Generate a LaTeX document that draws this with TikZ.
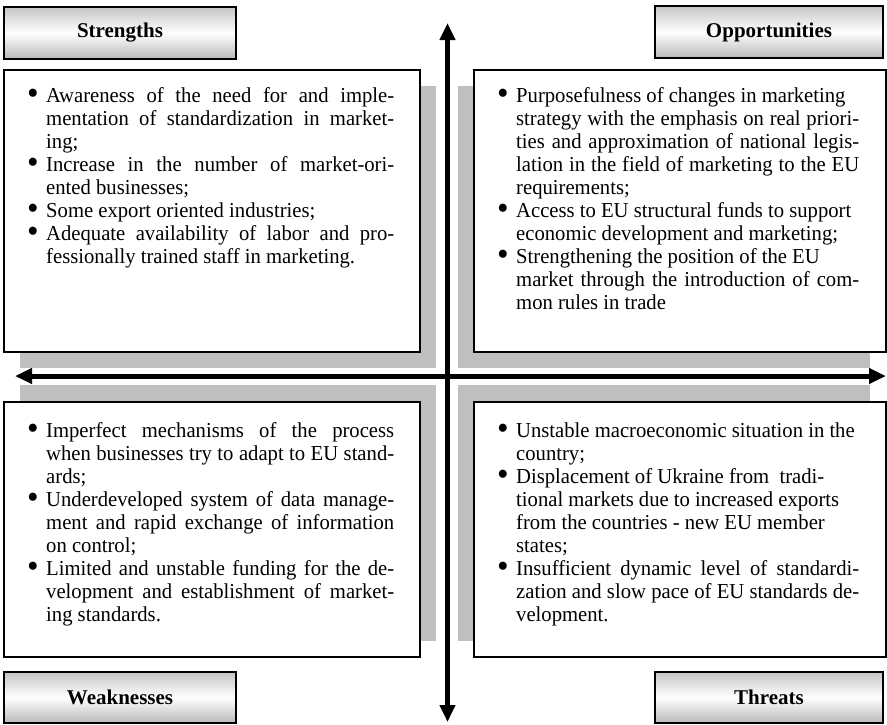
\documentclass[tikz,border=0pt]{standalone}
\usepackage{fontspec}
\usepackage{graphicx}
\setmainfont{Liberation Serif}
\newfontfamily\colserif{Liberation Serif}[FakeStretch=0.97]
\usetikzlibrary{arrows.meta}
\newcommand{\bigbullet}{\smash{\raisebox{-0.13em}{\scalebox{1.6}{\textbullet}}}}
\newcommand{\bitem}[1]{\par\noindent\hangindent=19pt\hangafter=1\hbox to 19pt{\bigbullet\hfil}#1\par}
\newcommand{\colfont}{\colserif\fontsize{21.3}{23}\selectfont\hyphenpenalty=10000\exhyphenpenalty=10000\tolerance=10000\parindent=0pt\parskip=0pt}
\newcommand{\coltxt}[2]{\parbox[t]{#1}{\colfont#2}}
\begin{document}
\begin{tikzpicture}[x=1pt,y=-1pt,
  shadowbox/.style={fill=gray!50, draw=none, inner sep=0pt},
  mainbox/.style={draw=black, line width=1.3pt, fill=white, inner sep=0pt},
  header/.style={draw=black, line width=1.3pt, top color=gray!45, bottom color=gray!55, middle color=white, minimum height=52pt, font=\fontsize{21}{24}\selectfont\bfseries, inner sep=0pt},
  coltext/.style={anchor=base west, inner sep=0pt},
  axis/.style={line width=5pt, {Triangle[width=15pt,length=17pt]}-{Triangle[width=15pt,length=17pt]}}
]
\useasboundingbox (0,0) rectangle (887,724);

% shadows
\node[shadowbox, minimum width=416pt, minimum height=282pt] (ulshadow) at (228,227) {};
\node[shadowbox, minimum width=412pt, minimum height=282pt] (urshadow) at (664,227) {};
\node[shadowbox, minimum width=416pt, minimum height=256pt] (llshadow) at (228,513) {};
\node[shadowbox, minimum width=412pt, minimum height=256pt] (lrshadow) at (664,513) {};

% main boxes
\node[mainbox, minimum width=416pt, minimum height=282pt] (sbox) at (212,211) {};
\node[mainbox, minimum width=412pt, minimum height=282pt] (obox) at (680,211) {};
\node[mainbox, minimum width=416pt, minimum height=255pt] (wbox) at (212,529.5) {};
\node[mainbox, minimum width=412pt, minimum height=255pt] (tbox) at (680,529.5) {};

% headers
\node[header, minimum width=232pt] (sh) at (120,33) {Strengths};
\node[header, minimum width=228pt] (oh) at (769,32) {Opportunities};
\node[header, minimum width=232pt, minimum height=51pt] (wh) at (120,697.5) {Weaknesses};
\node[header, minimum width=228pt, minimum height=51pt] (th) at (769,697.5) {Threats};

% texts
\node[coltext] (stext) at (27,102) {\coltxt{367pt}{%
\bitem{Awareness of the need for and imple-\linebreak mentation of standardization in market-\linebreak ing;}%
\bitem{Increase in the number of market-ori-\linebreak ented businesses;}%
\bitem{Some export oriented industries;}%
\bitem{Adequate availability of labor and pro-\linebreak fessionally trained staff in marketing.}}};

\node[coltext] (otext) at (497,102) {\coltxt{362pt}{%
\bitem{Purposefulness of changes in marketing\newline strategy with the emphasis on real priori-\linebreak ties and approximation of national legis-\linebreak lation in the field of marketing to the EU\linebreak requirements;}%
\bitem{Access to EU structural funds to support\newline economic development and marketing;}%
\bitem{Strengthening the position of the EU\newline market through the introduction of com-\linebreak mon rules in trade}}};

\node[coltext] (wtext) at (27,437) {\coltxt{367pt}{%
\bitem{Imperfect mechanisms of the process\linebreak when businesses try to adapt to EU stand-\linebreak ards;}%
\bitem{Underdeveloped system of data manage-\linebreak ment and rapid exchange of information\linebreak on control;}%
\bitem{Limited and unstable funding for the de-\linebreak velopment and establishment of market-\linebreak ing standards.}}};

\node[coltext] (ttext) at (497,437) {\coltxt{362pt}{%
\bitem{Unstable macroeconomic situation in the\newline country;}%
\bitem{Displacement of Ukraine from\ \ tradi-\newline tional markets due to increased exports\newline from the countries - new EU member\newline states;}%
\bitem{Insufficient dynamic level of standardi-\linebreak zation and slow pace of EU standards de-\linebreak velopment.}}};

% axes
\coordinate (vt) at (447.5,23);
\coordinate (vb) at (447.5,722);
\coordinate (hl) at (15,376);
\coordinate (hr) at (886,376);
\draw[axis] (vb) -- (vt);
\draw[axis] (hl) -- (hr);
\end{tikzpicture}
\end{document}
